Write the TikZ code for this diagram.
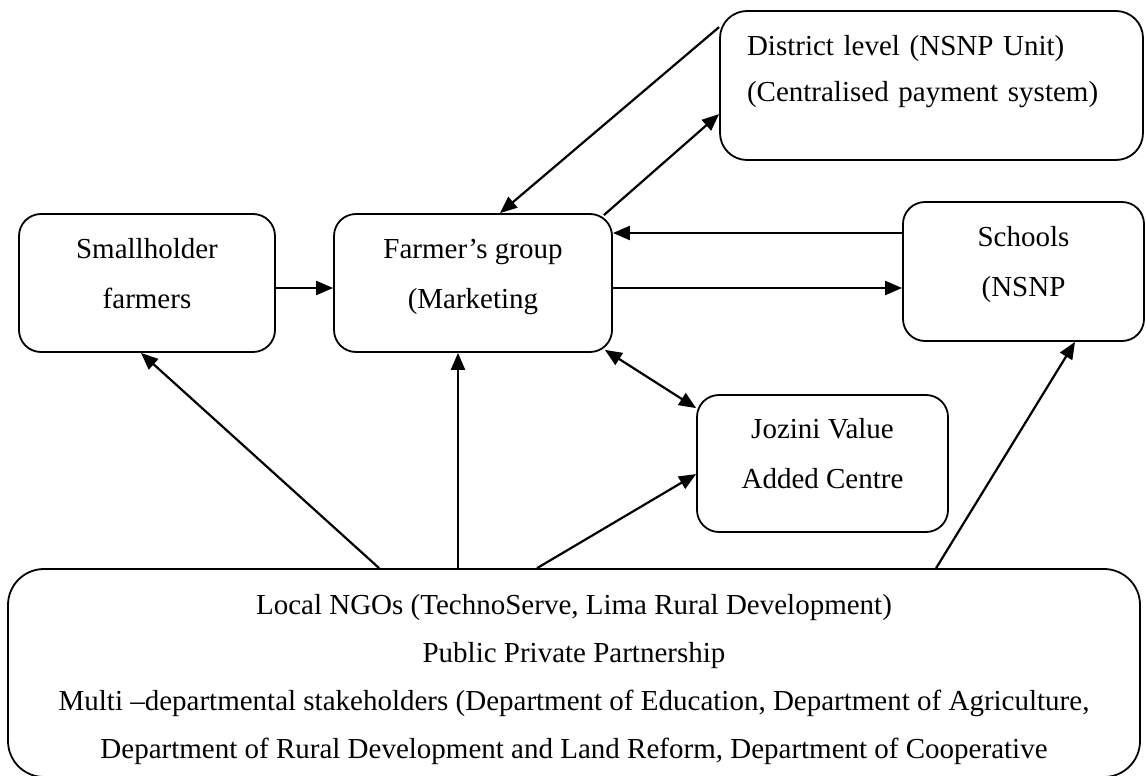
\documentclass[tikz,border=0pt]{standalone}
\usepackage{fontspec}
\setmainfont{Liberation Serif}
\usetikzlibrary{calc,arrows.meta}
\begin{document}
\begin{tikzpicture}[x=1pt,y=-1pt,
  box/.style={draw,line width=1.8pt,rounded corners=22pt,align=center,
    font=\fontsize{29}{50}\selectfont,text height=50pt,text depth=0pt,inner sep=0pt},
  tip/.tip={Triangle[length=17pt,width=14pt]},
  arr/.style={line width=2.2pt,-tip},
  biarr/.style={line width=2.2pt,tip-tip}]
\useasboundingbox (0,0) rectangle (1146,776);

% boxes
\node[box,minimum width=256pt,minimum height=138pt] (sh) at (147,283)
  {Smallholder\\farmers};
\node[box,minimum width=278pt,minimum height=138pt] (fg) at (473,283)
  {Farmer’s group\\(Marketing};
\node[box,minimum width=423pt,minimum height=149pt,rounded corners=27pt,
      align=left,text width=369pt,inner xsep=27pt,
      font=\fontsize{29}{46}\selectfont,text height=0pt,text depth=59pt] (dl) at (931.5,85.5)
  {District level (NSNP Unit)\\(Centralised payment system)};
\node[box,minimum width=241pt,minimum height=139pt] (sc) at (1023.5,271.5)
  {Schools\\(NSNP};
\node[box,minimum width=251pt,minimum height=137pt] (jz) at (822.5,463.5)
  {Jozini Value\\Added Centre};
\node[box,minimum width=1132pt,minimum height=208pt,rounded corners=36pt,
      font=\fontsize{29}{47.7}\selectfont,text height=170pt,text depth=0pt] (ng) at (574,673)
  {Local NGOs (TechnoServe, Lima Rural Development)\\
   Public Private Partnership\\
   Multi –departmental stakeholders (Department of Education, Department of Agriculture,\\
   Department of Rural Development and Land Reform, Department of Cooperative};

% connector end points
\coordinate (toSc) at ($(fg.east)+(0,5)$);
\coordinate (fromSc) at ($(fg.east)+(0,-50)$);
\coordinate (fgBottom) at ($(fg.south)+(-15,0)$);

% connectors
\draw[arr] ($(sh.east)+(0,5)$) -- ($(fg.west)+(0,5)$);
\draw[arr] (toSc) -- (toSc -| sc.west);
\draw[arr] (fromSc -| sc.west) -- (fromSc);
\draw[arr] ($(dl.north west)+(0,17)$) -- ($(fg.north)+(27,0)$);
\draw[arr] ($(fg.north east)+(-9,2)$) -- ($(dl.north west)+(0,104)$);
\draw[biarr] ($(fg.south east)+(-8,-3)$) -- ($(jz.north west)+(0,14)$);
\draw[arr] ($(ng.north west)+(530,0)$) -- ($(jz.north west)+(0,80)$);
\draw[arr] (fgBottom |- ng.north) -- (fgBottom);
\draw[arr] ($(ng.north west)+(372,0)$) -- ($(sh.south)+(-6,0)$);
\draw[arr] ($(ng.north west)+(929,0)$) -- ($(sc.south)+(51.5,0)$);
\end{tikzpicture}
\end{document}
